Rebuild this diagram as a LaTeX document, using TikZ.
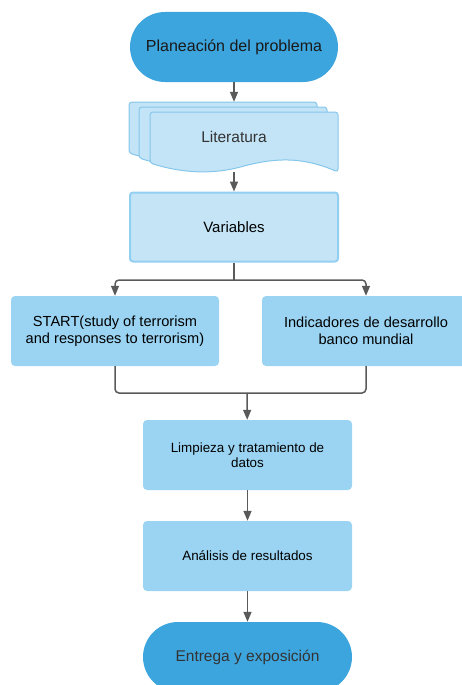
\documentclass[tikz,border=0pt]{standalone}
\usepackage{fontspec}
\setmainfont{Liberation Sans}
\usetikzlibrary{arrows.meta,positioning,shapes}
\definecolor{termblue}{HTML}{3DA5DD}
\definecolor{docfill}{HTML}{C3E4F6}
\definecolor{docedge}{HTML}{85C6EB}
\definecolor{varfill}{HTML}{C5E5F7}
\definecolor{varedge}{HTML}{92CFF0}
\definecolor{boxfill}{HTML}{9BD4F3}
\definecolor{linegray}{HTML}{5A5A5A}
\tikzset{
  term/.style={fill=termblue, rounded corners=35pt, minimum width=208pt, minimum height=70pt, font=\fontsize{15.5}{18}\selectfont},
  docsheet/.style={fill=docfill, draw=docedge, line width=1pt, rounded corners=3pt},
  varbox/.style={fill=varfill, draw=varedge, line width=2pt, rounded corners=3pt, minimum width=208pt, minimum height=69pt, font=\fontsize{15}{18}\selectfont},
  databox/.style={fill=boxfill, rounded corners=4pt, minimum width=208pt, minimum height=70pt, align=center, font=\fontsize{14.6}{17.5}\selectfont},
  procbox/.style={fill=boxfill, rounded corners=4pt, minimum width=209pt, minimum height=70pt, align=center, font=\fontsize{13.4}{15.5}\selectfont},
  flow/.style={draw=linegray, line width=1.5pt, -{Triangle[length=10pt,width=8pt]}},
}
\begin{document}
\begin{tikzpicture}[x=1pt, y=-1pt]
        \useasboundingbox (0,0) rectangle (462,685);
        \clip (0,0) rectangle (462,685);

        % Start
        \node[term, text=black!90, font=\fontsize{16}{19}\selectfont] (plan) at (234,47) {Planeación del problema};

        % Stacked documents
        \foreach \dx/\dy in {-21/-10, -11/-5, 0/0} {
            \draw[docsheet, shift={(\dx,\dy)}] (150,163) -- (150,112) -- (338,112) -- (338,172)
                .. controls (305,158) and (280,157) .. (244,166)
                .. controls (215,174) and (185,174) .. (150,163) -- cycle;
        }
        \node[minimum width=209pt, minimum height=70pt, text=black!80, font=\fontsize{15.5}{18}\selectfont] (lit) at (234,137) {Literatura};

        \node[varbox] (vars) at (234,227) {Variables};

        % Sources
        \node[databox] (start) at (115,331) {START(study of terrorism\\and responses to terrorism)};
        \node[databox] (wb) at (366,331) {Indicadores de desarrollo\\banco mundial};

        \coordinate (split) at (234,280);
        \coordinate (merge) at (247,393);

        % Processing
        \node[procbox] (clean) at (247.5,455) {Limpieza y tratamiento de\\datos};
        \node[procbox] (results) at (247.5,556) {Análisis de resultados};

        % End
        \node[term, text=black!80, minimum width=209pt] (deliver) at (247.5,657) {Entrega y exposición};

        \draw[flow] (plan) -- (lit);
        \draw[flow] (lit) -- (vars);
        \draw[draw=linegray, line width=1.5pt] (vars) -- (split);
        \draw[flow, rounded corners=4pt] (split) -| (start);
        \draw[flow, rounded corners=4pt] (split) -| (wb);
        \draw[draw=linegray, line width=1.5pt, rounded corners=4pt] (start) |- (merge);
        \draw[draw=linegray, line width=1.5pt, rounded corners=4pt] (wb) |- (merge);
        \draw[flow] (merge) -- (clean);
        \draw[flow] (clean) -- (results);
        \draw[flow] (results) -- (deliver);

\end{tikzpicture}
\end{document}
